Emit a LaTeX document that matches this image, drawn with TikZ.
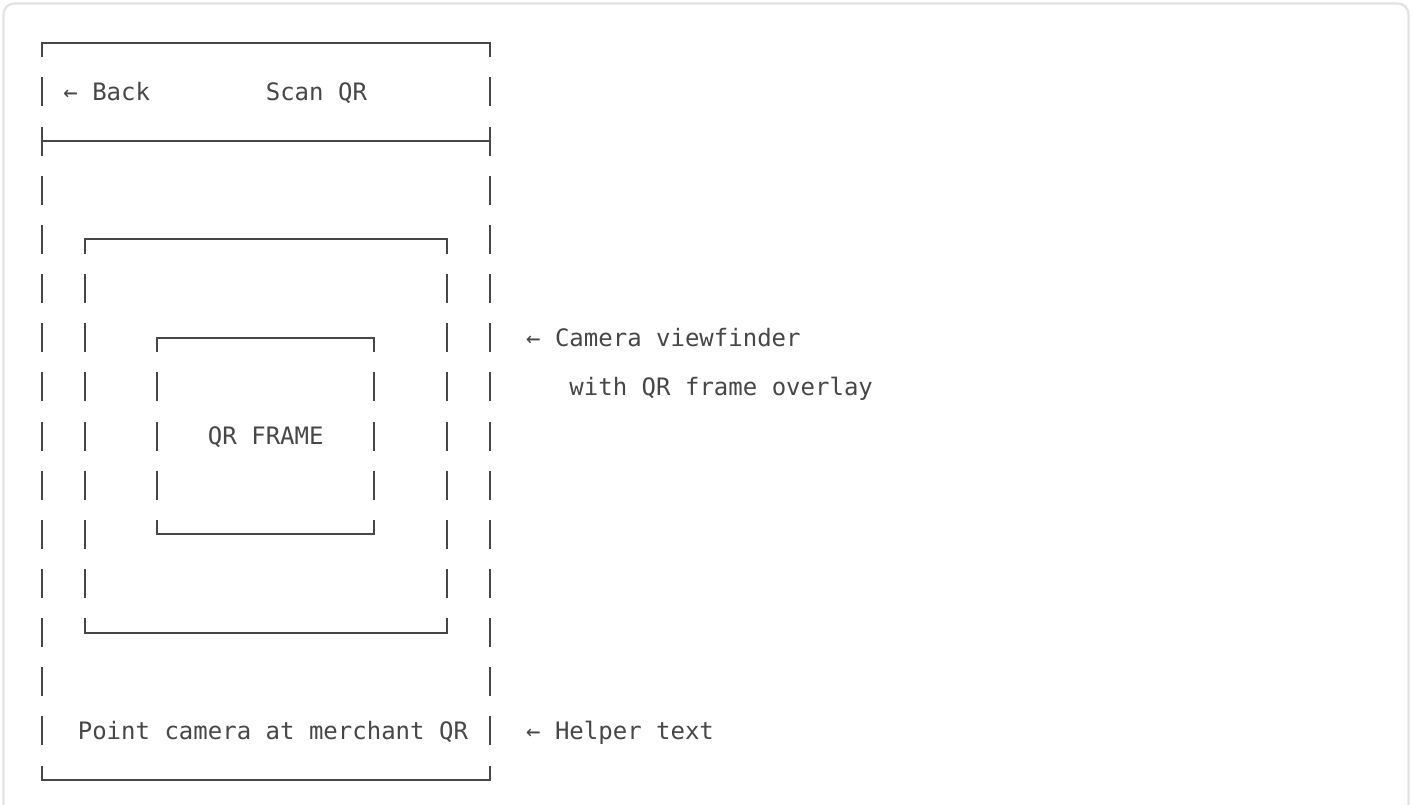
\documentclass[tikz,border=0pt]{standalone}
\usepackage{fontspec}
\newfontfamily\mono{DejaVu Sans Mono}
\definecolor{ink}{HTML}{474747}
\definecolor{cardline}{HTML}{E2E2E2}
\tikzset{
  hline/.style={draw=ink, line width=1.4pt, line cap=rect},
  vbar/.style={draw=ink, line width=1.4pt, line cap=butt,
               dash pattern=on 21.75pt off 15.1125pt, dash phase=10.875pt},
  label/.style={anchor=base west, inner sep=0pt, outer sep=0pt, text=ink,
                font=\mono\fontsize{18pt}{20pt}\selectfont},
}
\begin{document}
\begin{tikzpicture}[x=0.75pt, y=-0.75pt]
  \useasboundingbox (0,0) rectangle (1413,805);
  \clip (0,0) rectangle (1413,805);
  \fill[white] (0,0) rectangle (1413,805);
  \draw[cardline, line width=1.6pt, rounded corners=8pt] (3.5,3.5) rectangle (1408.5,830);
  \begin{scope}[shift={(41.7,42.8)}, x=10.845pt, y=-36.8625pt]
    % outer phone frame (cols 0-31, rows 0-15), header separator at row 2
    \coordinate (oTL) at (0,0);  \coordinate (oTR) at (31,0);
    \coordinate (oBL) at (0,15); \coordinate (oBR) at (31,15);
    \coordinate (sL) at (0,2);   \coordinate (sR) at (31,2);
    \draw[hline] (oTL) -- (oTR);
    \draw[hline] (sL) -- (sR);
    \draw[hline] (oBL) -- (oBR);
    \draw[vbar] (oTL) -- (oBL);
    \draw[vbar] (oTR) -- (oBR);
    % camera viewfinder (cols 3-28, rows 4-12)
    \coordinate (vTL) at (3,4);  \coordinate (vTR) at (28,4);
    \coordinate (vBL) at (3,12); \coordinate (vBR) at (28,12);
    \draw[hline] (vTL) -- (vTR);
    \draw[hline] (vBL) -- (vBR);
    \draw[vbar] (vTL) -- (vBL);
    \draw[vbar] (vTR) -- (vBR);
    % QR frame (cols 8-23, rows 6-10)
    \coordinate (qTL) at (8,6);  \coordinate (qTR) at (23,6);
    \coordinate (qBL) at (8,10); \coordinate (qBR) at (23,10);
    \draw[hline] (qTL) -- (qTR);
    \draw[hline] (qBL) -- (qBR);
    \draw[vbar] (qTL) -- (qBL);
    \draw[vbar] (qTR) -- (qBR);
    % texts
    \node[label] (back)   at (1.5,1.169)  {← Back};
    \node[label] (title)  at (15.5,1.169) {Scan QR};
    \node[label] (qrtext) at (11.5,8.169) {QR FRAME};
    \node[label] (hint)   at (2.5,14.169) {Point camera at merchant QR};
    \node[label] (note1)  at (33.5,6.169) {← Camera viewfinder};
    \node[label] (note2)  at (36.5,7.169) {with QR frame overlay};
    \node[label] (helper) at (33.5,14.169) {← Helper text};
  \end{scope}
\end{tikzpicture}
\end{document}
